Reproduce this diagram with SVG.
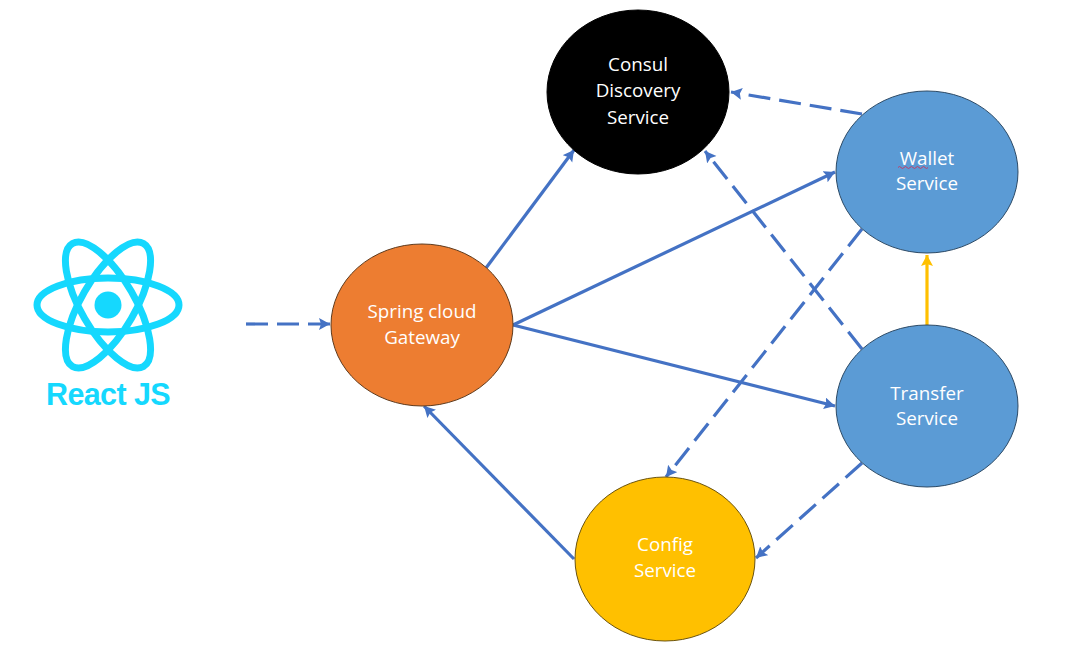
<svg xmlns="http://www.w3.org/2000/svg" width="1067" height="650" viewBox="0 0 1067 650">
<style>
.n{stroke-width:1}
.t{font-family:"Open Sans","Noto Sans","Liberation Sans",sans-serif;font-size:18.8px;fill:#fff;text-anchor:middle}
.c{fill:none;stroke:#4472c4;stroke-width:3.2;marker-end:url(#a)}
.d{stroke-dasharray:22 9}
</style>
<defs>
<marker id="a" markerUnits="userSpaceOnUse" markerWidth="14" markerHeight="14" refX="11" refY="6" orient="auto"><path d="M0 0L11 6L0 12L2 6Z" fill="#4472c4"/></marker>
<marker id="y" markerUnits="userSpaceOnUse" markerWidth="14" markerHeight="14" refX="11" refY="6" orient="auto"><path d="M0 0L11 6L0 12L2 6Z" fill="#ffc000"/></marker>
</defs>
<rect width="1067" height="650" fill="#fff"/>
<g id="connectors">
<path class="c d" d="M246 324H330"/>
<path class="c" d="M486 268L574 150"/>
<path class="c" d="M513 325L835 172"/>
<path class="c" d="M513 325L835 406"/>
<path class="c" d="M574 559L424 406"/>
<path class="c d" d="M862 114L731 92"/>
<path class="c d" d="M862 349L705 151"/>
<path class="c d" d="M862 229L666 477"/>
<path class="c d" d="M862 463L756 558"/>
<path d="M927 325V255" fill="none" stroke="#ffc000" stroke-width="3.200" marker-end="url(#y)"/>
</g>
<g id="react">
<g fill="none" stroke="#15d8fe" stroke-width="7">
<ellipse cx="108" cy="305" rx="71" ry="27"/>
<ellipse cx="108" cy="305" rx="71" ry="27" transform="rotate(60 108 305)"/>
<ellipse cx="108" cy="305" rx="71" ry="27" transform="rotate(120 108 305)"/>
</g>
<circle cx="108" cy="305" r="13.500" fill="#15d8fe"/>
<text x="108" y="405" font-family="'Liberation Sans',Arial,sans-serif" font-size="30.500" font-weight="700" fill="#15d8fe" text-anchor="middle" letter-spacing="-.6">React JS</text>
</g>
<g id="consul">
<ellipse class="n" cx="638" cy="92" rx="91" ry="82" fill="#000" stroke="#000"/>
<text class="t" x="638" y="71">Consul</text><text class="t" x="638" y="97">Discovery</text><text class="t" x="638" y="124">Service</text>
</g>
<g id="gateway">
<ellipse class="n" cx="422" cy="325" rx="91" ry="81" fill="#ed7d31" stroke="#5f3a1c"/>
<text class="t" x="422" y="318">Spring cloud</text><text class="t" x="422" y="344">Gateway</text>
</g>
<g id="wallet">
<ellipse class="n" cx="927" cy="172" rx="91" ry="81" fill="#5b9bd5" stroke="#2c4a66"/>
<text class="t" x="927" y="165">Wallet</text><text class="t" x="927" y="190">Service</text>
<path d="M898 167.500q1.500-2 3 0t3 0t3 0t3 0t3 0t3 0t3 0t3 0t3 0t3 0" fill="none" stroke="#c0406a" stroke-width="1"/>
</g>
<g id="transfer">
<ellipse class="n" cx="927" cy="406" rx="91" ry="81" fill="#5b9bd5" stroke="#2c4a66"/>
<text class="t" x="927" y="400">Transfer</text><text class="t" x="927" y="425">Service</text>
</g>
<g id="config">
<ellipse class="n" cx="665" cy="559" rx="90" ry="82" fill="#ffc000" stroke="#6b5410"/>
<text class="t" x="665" y="551">Config</text><text class="t" x="665" y="577">Service</text>
</g>
</svg>
